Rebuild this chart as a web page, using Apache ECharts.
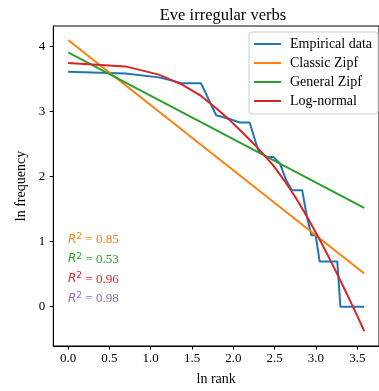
<!DOCTYPE html>
<html>
<head>
<meta charset="utf-8">
<script src="https://cdn.jsdelivr.net/npm/echarts@6/dist/echarts.min.js"></script>
<style>
html,body{margin:0;padding:0;background:#fff;}
#c{width:379px;height:391px;}
</style>
</head>
<body>
<div id="c"></div>
<script>
// ln rank for ranks 1..36
var lnRank = [0, 0.693, 1.099, 1.386, 1.609, 1.792, 1.946, 2.079, 2.197, 2.303,
  2.398, 2.485, 2.565, 2.639, 2.708, 2.773, 2.833, 2.890, 2.944, 2.996,
  3.045, 3.091, 3.135, 3.178, 3.219, 3.258, 3.296, 3.332, 3.367, 3.401,
  3.434, 3.466, 3.497, 3.526, 3.555, 3.584];
// empirical ln frequency
var empirical = [3.611, 3.584, 3.526, 3.434, 3.434, 2.944, 2.890, 2.833, 2.833, 2.398,
  2.303, 2.303, 2.197, 1.946, 1.792, 1.792, 1.792, 1.386, 1.099, 1.099,
  0.693, 0.693, 0.693, 0.693, 0.693, 0.693, 0, 0, 0, 0,
  0, 0, 0, 0, 0, 0];
// log-normal fit
var logNormal = [3.746, 3.695, 3.568, 3.41, 3.24, 3.05, 2.88, 2.717, 2.567, 2.43,
  2.295, 2.169, 2.031, 1.898, 1.767, 1.64, 1.51, 1.388, 1.264, 1.144,
  1.029, 0.919, 0.811, 0.70, 0.597, 0.498, 0.40, 0.306, 0.214, 0.124,
  0.036, -0.050, -0.134, -0.214, -0.294, -0.376];
// straight fits: endpoints
var fitX = [0, 3.584];
var classicZipf = [4.10, 0.51];
var generalZipf = [3.91, 1.52];

var seriesNames = ['Empirical data', 'Classic Zipf', 'General Zipf', 'Log-normal'];
var colors = ['#1f77b4', '#ff7f0e', '#2ca02c', '#d62728'];
var r2Values = ['0.85', '0.53', '0.96', '0.98'];
var r2Colors = ['#ff7f0e', '#2ca02c', '#d62728', '#9467bd'];
var xTicks = [0, 0.5, 1, 1.5, 2, 2.5, 3, 3.5];
var yTicks = [0, 1, 2, 3, 4];

function pairs(xs, ys){ return xs.map(function(x,i){ return [x, ys[i]]; }); }

var serif = 'Liberation Serif';
var chart = echarts.init(document.getElementById('c'), null, {renderer:'canvas'});

var graphics = r2Values.map(function(v, i){
  return {
    type: 'text', left: 68, top: 232 + i*19.8,
    style: {
      rich: {
        r: {fontFamily: 'DejaVu Sans', fontStyle: 'italic', fontSize: 12, fill: r2Colors[i]},
        s: {fontFamily: 'DejaVu Sans', fontSize: 9, fill: r2Colors[i], padding:[0,0,6,0]},
        t: {fontFamily: serif, fontSize: 13, fill: r2Colors[i]}
      },
      text: '{r|R}{s|2}{t| = ' + v + '}'
    }
  };
});

chart.setOption({
  animation: false,
  color: colors,
  title: {
    text: 'Eve irregular verbs', left: 218, top: 2, textAlign: 'center',
    textStyle: {fontFamily: serif, fontSize: 16.5, fontWeight: 'normal', color: '#000'}
  },
  grid: {left: 53.3, top: 26, right: -4.7, bottom: 42.7, show: true, borderColor: '#000', borderWidth: 1},
  legend: {
    data: seriesNames, orient: 'vertical', left: 249, top: 32,
    icon: 'rect', itemWidth: 27, itemHeight: 2, itemGap: 5,
    padding: [5, 6, 6, 5],
    borderColor: '#ccc', borderWidth: 1, borderRadius: 3,
    backgroundColor: 'rgba(255,255,255,0.8)',
    textStyle: {fontFamily: serif, fontSize: 14, color: '#000', padding: [0,0,0,4]}
  },
  xAxis: {
    type: 'value', min: -0.179, max: 3.763,
    name: 'ln rank', nameLocation: 'middle', nameGap: 26,
    nameTextStyle: {fontFamily: serif, fontSize: 14, color: '#000'},
    axisLine: {show: true, onZero: false, lineStyle: {color: '#000', width: 1}},
    axisTick: {show: true, length: 3.5, lineStyle: {color: '#000'}, customValues: xTicks},
    axisLabel: {customValues: xTicks, fontFamily: serif, fontSize: 13, color: '#000', margin: 6,
      formatter: function(v){ return v.toFixed(1); }},
    splitLine: {show: false}
  },
  yAxis: {
    type: 'value', min: -0.605, max: 4.316,
    name: 'ln frequency', nameLocation: 'middle', nameGap: 17,
    nameTextStyle: {fontFamily: serif, fontSize: 14, color: '#000'},
    axisLine: {show: true, onZero: false, lineStyle: {color: '#000', width: 1}},
    axisTick: {show: true, length: 3.5, lineStyle: {color: '#000'}, customValues: yTicks},
    axisLabel: {customValues: yTicks, fontFamily: serif, fontSize: 13, color: '#000', margin: 8},
    splitLine: {show: false}
  },
  graphic: graphics,
  series: [
    {name: seriesNames[0], type: 'line', data: pairs(lnRank, empirical), showSymbol: false, symbol: 'none', lineStyle: {width: 2}, z: 2},
    {name: seriesNames[1], type: 'line', data: pairs(fitX, classicZipf), showSymbol: false, symbol: 'none', lineStyle: {width: 2}, z: 3},
    {name: seriesNames[2], type: 'line', data: pairs(fitX, generalZipf), showSymbol: false, symbol: 'none', lineStyle: {width: 2}, z: 4},
    {name: seriesNames[3], type: 'line', data: pairs(lnRank, logNormal), showSymbol: false, symbol: 'none', lineStyle: {width: 2}, z: 5}
  ]
});
</script>
</body>
</html>
